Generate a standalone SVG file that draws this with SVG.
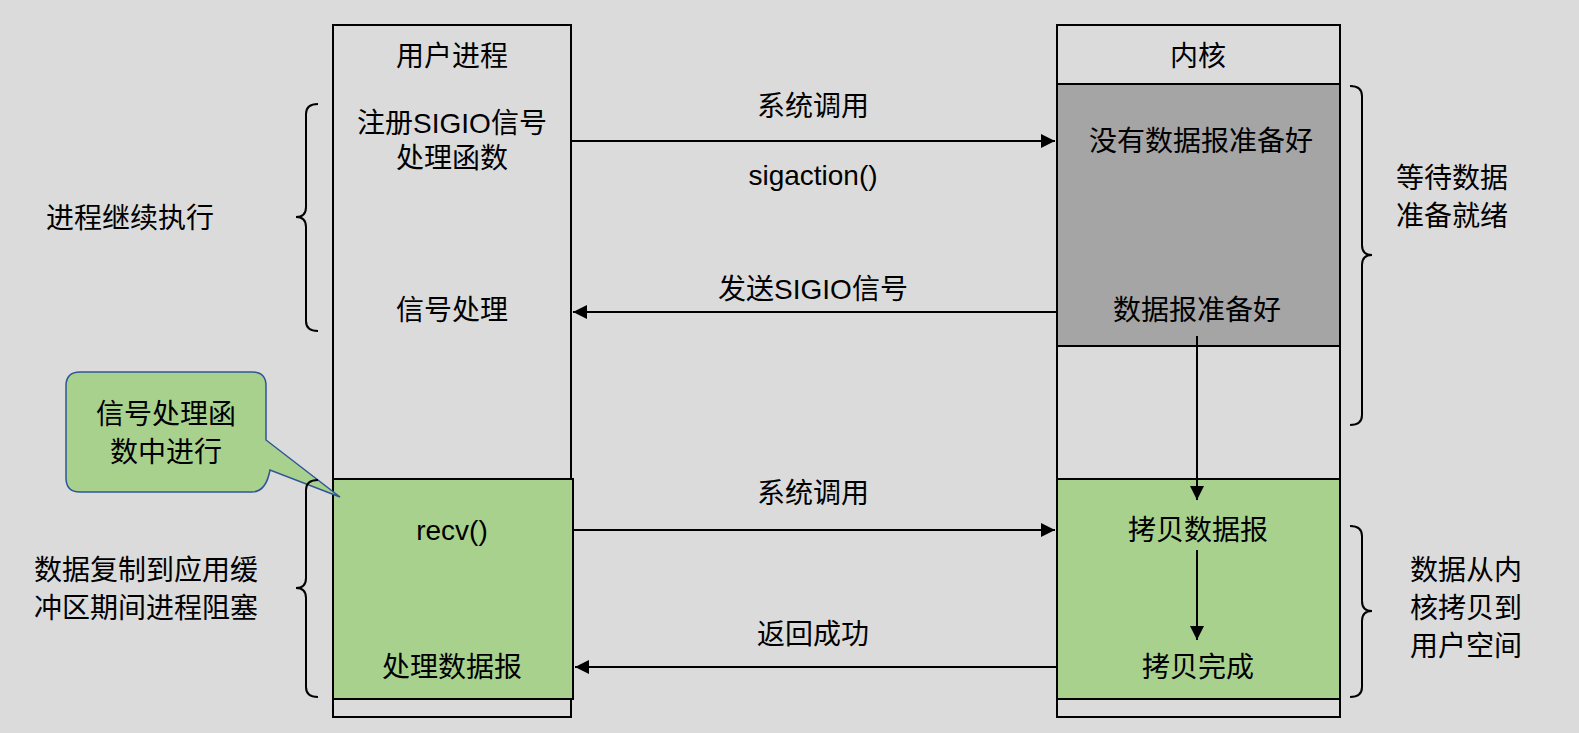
<svg xmlns="http://www.w3.org/2000/svg" width="1579" height="733" viewBox="0 0 1579 733">
<defs>
<style>
text{font-family:"Liberation Sans","Noto Sans CJK SC",sans-serif;font-size:28px;fill:#000;text-anchor:middle}
.l{text-anchor:start}
.box{stroke:#000;stroke-width:2}
.c{stroke:#000;stroke-width:2;fill:none}
</style>
<marker id="a" viewBox="0 0 10 10" refX="10" refY="5" markerWidth="7" markerHeight="7" orient="auto"><path d="M0,0 L10,5 L0,10 z" fill="#000"/></marker>
</defs>
<rect width="1579" height="733" fill="#dbdbdb"/>
<g id="user">
<rect class="box" x="333" y="25" width="238" height="692" fill="#dbdbdb"/>
<rect class="box" x="333" y="479" width="240" height="220" fill="#a9d18e"/>
<text x="452" y="66">用户进程</text>
<text x="452" y="133">注册SIGIO信号</text>
<text x="452" y="168">处理函数</text>
<text x="452" y="320">信号处理</text>
<text x="452" y="540">recv()</text>
<text x="452" y="677">处理数据报</text>
</g>
<g id="kernel">
<rect class="box" x="1057" y="25" width="283" height="692" fill="#dbdbdb"/>
<rect class="box" x="1057" y="84" width="283" height="262" fill="#a5a5a5"/>
<rect class="box" x="1057" y="479" width="283" height="220" fill="#a9d18e"/>
<text x="1198" y="66">内核</text>
<text x="1201" y="151">没有数据报准备好</text>
<text x="1197" y="320">数据报准备好</text>
<text x="1198" y="540">拷贝数据报</text>
<text x="1198" y="677">拷贝完成</text>
</g>
<g id="callout">
<path d="M80,372 H252 Q266,372 266,386 V440 L340,497 L270,470 Q266,492 252,492 H80 Q66,492 66,478 V386 Q66,372 80,372 Z" fill="#a9d18e" stroke="#2f5597" stroke-width="1.5"/>
<text x="166" y="424">信号处理函</text>
<text x="166" y="462">数中进行</text>
</g>
<g id="labels">
<text class="l" x="46" y="228">进程继续执行</text>
<text class="l" x="34" y="580">数据复制到应用缓</text>
<text class="l" x="34" y="618">冲区期间进程阻塞</text>
<text class="l" x="1396" y="188">等待数据</text>
<text class="l" x="1396" y="226">准备就绪</text>
<text class="l" x="1410" y="580">数据从内</text>
<text class="l" x="1410" y="618">核拷贝到</text>
<text class="l" x="1410" y="656">用户空间</text>
<text x="813" y="116">系统调用</text>
<text x="813" y="185">sigaction()</text>
<text x="813" y="299">发送SIGIO信号</text>
<text x="813" y="503">系统调用</text>
<text x="813" y="644">返回成功</text>
</g>
<g id="connectors">
<line class="c" x1="571" y1="141" x2="1055" y2="141" marker-end="url(#a)"/>
<line class="c" x1="1057" y1="312" x2="573" y2="312" marker-end="url(#a)"/>
<line class="c" x1="573" y1="530" x2="1055" y2="530" marker-end="url(#a)"/>
<line class="c" x1="1057" y1="667" x2="575" y2="667" marker-end="url(#a)"/>
<line class="c" x1="1197" y1="336" x2="1197" y2="500" marker-end="url(#a)"/>
<line class="c" x1="1197" y1="550" x2="1197" y2="640" marker-end="url(#a)"/>
<path class="c" d="M318,104 Q306,104 306,114 V207 Q306,217 296,217 Q306,217 306,227 V321 Q306,331 318,331"/>
<path class="c" d="M318,480 Q306,480 306,490 V578 Q306,588 296,588 Q306,588 306,598 V687 Q306,697 318,697"/>
<path class="c" d="M1350,86 Q1362,86 1362,96 V245 Q1362,255 1372,255 Q1362,255 1362,265 V415 Q1362,425 1350,425"/>
<path class="c" d="M1350,526 Q1362,526 1362,536 V601 Q1362,611 1372,611 Q1362,611 1362,621 V687 Q1362,697 1350,697"/>
</g>
</svg>
